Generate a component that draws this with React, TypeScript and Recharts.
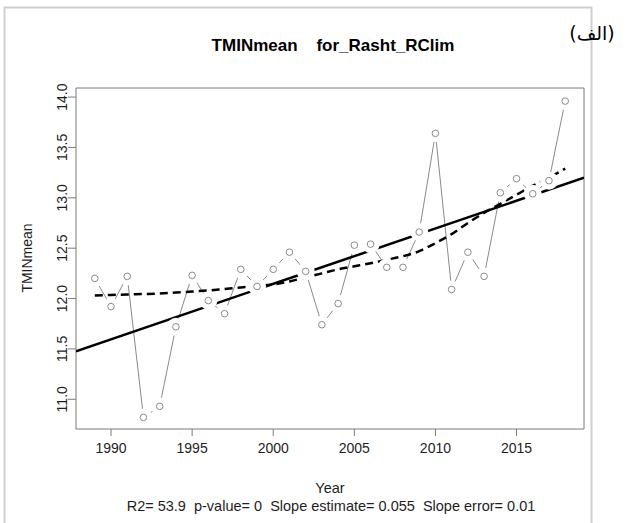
import { ComposedChart, Line, XAxis, YAxis, ReferenceArea } from "recharts";

// annual mean of daily minimum temperature, Rasht
const years = [
  1989, 1990, 1991, 1992, 1993, 1994, 1995, 1996, 1997, 1998, 1999, 2000, 2001, 2002, 2003,
  2004, 2005, 2006, 2007, 2008, 2009, 2010, 2011, 2012, 2013, 2014, 2015, 2016, 2017, 2018,
];
const tminMean = [
  12.2, 11.92, 12.22, 10.82, 10.93, 11.72, 12.23, 11.98, 11.85, 12.29, 12.12, 12.29, 12.46, 12.27, 11.74,
  11.95, 12.53, 12.54, 12.31, 12.31, 12.66, 13.64, 12.09, 12.46, 12.22, 13.05, 13.19, 13.04, 13.17, 13.96,
];
// lowess-style smooth (dashed)
const smoothed = [
  12.03, 12.035, 12.04, 12.045, 12.05, 12.06, 12.07, 12.08, 12.095, 12.11, 12.125, 12.14, 12.17, 12.21, 12.25,
  12.29, 12.32, 12.35, 12.385, 12.42, 12.47, 12.55, 12.64, 12.75, 12.85, 12.94, 13.03, 13.12, 13.2, 13.29,
];

const xTicks = [1990, 1995, 2000, 2005, 2010, 2015];
const yTicks = [11, 11.5, 12, 12.5, 13, 13.5, 14];
const X_DOMAIN: [number, number] = [1987.84, 2019.16];
const Y_DOMAIN: [number, number] = [10.705, 14.09];

// linear fit: value at left edge of the x range, slope per year
const TREND_START = 11.477;
const SLOPE = 0.055;

const rows = years.map((year, i) => ({ year, tmin: tminMean[i], smooth: smoothed[i] }));
const trendRows = X_DOMAIN.map((year) => ({ year, trend: TREND_START + SLOPE * (year - X_DOMAIN[0]) }));

const FONT = "'Liberation Sans', Arial, sans-serif";
const TEXT = "#1e1e1e";
const AXIS = "#7a7a7a";

// open circle with a white halo so the connecting segments stop short (R type="b")
const OpenPoint = (props: any) => {
  const { cx, cy, index } = props;
  if (cx == null || cy == null) return null;
  return (
    <g key={`pt-${index}`}>
      <circle cx={cx} cy={cy} r={9} fill="#fff" />
      <circle cx={cx} cy={cy} r={3.3} fill="#fff" stroke="#8a8a8a" strokeWidth={1} />
    </g>
  );
};

const XTick = (props: any) => {
  const { x, y, payload } = props;
  return (
    <text x={x} y={y + 12} textAnchor="middle" dominantBaseline="central" fontSize={14} fill={TEXT} fontFamily={FONT}>
      {payload.value}
    </text>
  );
};

const YTick = (props: any) => {
  const { x, y, payload } = props;
  const cx = x - 6.3;
  return (
    <text
      x={cx}
      y={y}
      transform={`rotate(-90 ${cx} ${y})`}
      textAnchor="middle"
      dominantBaseline="central"
      fontSize={14}
      fill={TEXT}
      fontFamily={FONT}
    >
      {Number(payload.value).toFixed(1)}
    </text>
  );
};

export default function App() {
  return (
    <div style={{ position: "absolute", left: 0, top: 0, width: 633, height: 523, background: "#fff" }}>
      <ComposedChart width={633} height={523} data={rows} margin={{ top: 88, right: 49, left: 0, bottom: 0 }}>
        <XAxis
          dataKey="year"
          type="number"
          domain={X_DOMAIN}
          ticks={xTicks}
          interval={0}
          allowDataOverflow
          axisLine={false}
          tickLine={{ stroke: AXIS }}
          tickSize={7}
          tickMargin={0}
          height={94}
          tick={XTick}
        />
        <YAxis
          type="number"
          domain={Y_DOMAIN}
          ticks={yTicks}
          interval={0}
          allowDataOverflow
          axisLine={false}
          tickLine={{ stroke: AXIS }}
          tickSize={8}
          tickMargin={0}
          width={76}
          tick={YTick}
        />
        {/* plot box */}
        <ReferenceArea
          x1={X_DOMAIN[0]}
          x2={X_DOMAIN[1]}
          y1={Y_DOMAIN[0]}
          y2={Y_DOMAIN[1]}
          fill="none"
          fillOpacity={0}
          stroke={AXIS}
          strokeWidth={1}
        />
        <Line
          dataKey="tmin"
          type="linear"
          stroke="#8a8a8a"
          strokeWidth={1}
          dot={OpenPoint}
          activeDot={false}
          isAnimationActive={false}
        />
        <Line
          data={trendRows}
          dataKey="trend"
          type="linear"
          stroke="#000"
          strokeWidth={2.5}
          dot={false}
          activeDot={false}
          isAnimationActive={false}
        />
        <Line
          dataKey="smooth"
          type="monotone"
          stroke="#000"
          strokeWidth={2.5}
          strokeDasharray="8 5"
          dot={false}
          activeDot={false}
          isAnimationActive={false}
        />
      </ComposedChart>

      <svg
        width={633}
        height={523}
        style={{ position: "absolute", left: 0, top: 0, pointerEvents: "none" }}
        fontFamily={FONT}
      >
        <rect x={4.5} y={7.5} width={587} height={530} fill="none" stroke="#cfcfcf" strokeWidth={2} />
        <text x={333} y={45} textAnchor="middle" dominantBaseline="central" fontSize={17} fontWeight="bold" fill="#000" style={{ whiteSpace: "pre" }}>
          {"TMINmean    for_Rasht_RClim"}
        </text>
        <text x={592} y={33} textAnchor="middle" dominantBaseline="central" fontSize={19} fill="#000" fontFamily="'DejaVu Sans', sans-serif" direction="rtl">
          (الف)
        </text>
        <text
          x={26.7}
          y={258}
          transform="rotate(-90 26.7 258)"
          textAnchor="middle"
          dominantBaseline="central"
          fontSize={14}
          fill={TEXT}
        >
          TMINmean
        </text>
        <text x={330} y={488} textAnchor="middle" dominantBaseline="central" fontSize={14.5} fill={TEXT}>
          Year
        </text>
        <text x={331} y={506} textAnchor="middle" dominantBaseline="central" fontSize={14.5} fill={TEXT} style={{ whiteSpace: "pre" }}>
          {"R2= 53.9  p-value= 0  Slope estimate= 0.055  Slope error= 0.01"}
        </text>
      </svg>
    </div>
  );
}
